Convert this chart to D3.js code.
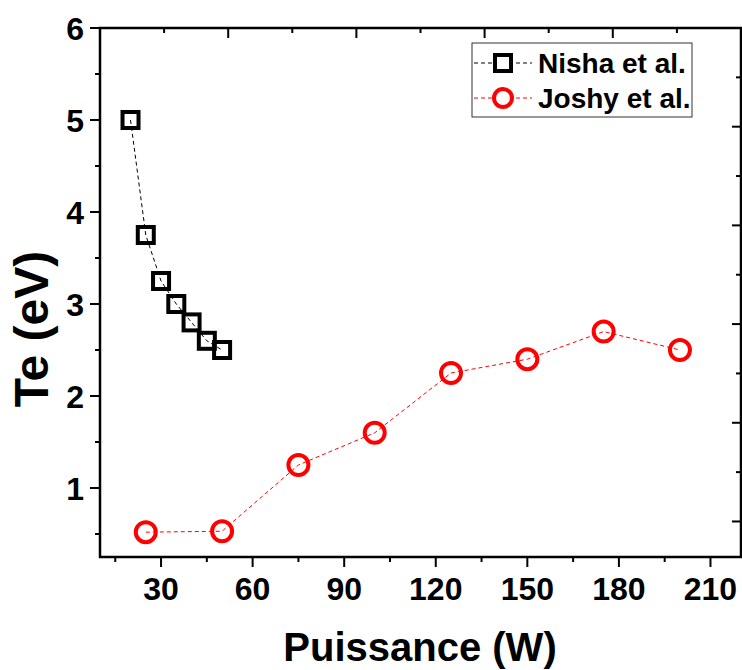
<!doctype html>
<html lang="fr">
<head>
  <meta charset="UTF-8">
  <title>Te vs Puissance</title>
  <style>
    body { margin: 0; background: #fff; }
    #app { width: 742px; height: 670px; }
    text { font-family: "Liberation Sans", Arial, sans-serif; font-weight: bold; }
  </style>
</head>
<body>
<div id="app"></div>
<script src="https://cdn.jsdelivr.net/npm/d3@7"></script>
<script>
  // data
  var nishaX = [20, 25, 30, 35, 40, 45, 50];
  var nishaY = [5.0, 3.75, 3.25, 3.0, 2.8, 2.6, 2.5];
  var joshyX = [25, 50, 75, 100, 125, 150, 175, 200];
  var joshyY = [0.52, 0.53, 1.25, 1.6, 2.25, 2.4, 2.7, 2.5];
  var xTicks = [30, 60, 90, 120, 150, 180, 210];
  var yTicks = [1, 2, 3, 4, 5, 6];
  var seriesNames = ['Nisha et al.', 'Joshy et al.'];

  var width = 742, height = 670;
  // plot frame (note: "top" is reserved on window, so use pTop etc.)
  var pLeft = 100, pRight = 741, pTop = 28, pBottom = 557;

  var x = d3.scaleLinear().domain([10, 220]).range([pLeft, pRight]);
  var y = d3.scaleLinear().domain([0.25, 6]).range([pBottom, pTop]);

  var svg = d3.select('#app').append('svg')
    .attr('width', width)
    .attr('height', height);

  // frame
  svg.append('rect')
    .attr('x', pLeft).attr('y', pTop)
    .attr('width', pRight - pLeft).attr('height', pBottom - pTop)
    .attr('fill', 'none').attr('stroke', '#000').attr('stroke-width', 2.5);

  // bottom axis: major + minor ticks outward
  var xMinor = d3.range(15, 220, 30);
  svg.selectAll('line.xmaj').data(xTicks).enter().append('line')
    .attr('x1', d => x(d)).attr('x2', d => x(d))
    .attr('y1', pBottom).attr('y2', pBottom + 10)
    .attr('stroke', '#000').attr('stroke-width', 2);
  svg.selectAll('line.xmin').data(xMinor).enter().append('line')
    .attr('x1', d => x(d)).attr('x2', d => x(d))
    .attr('y1', pBottom).attr('y2', pBottom + 5)
    .attr('stroke', '#000').attr('stroke-width', 2);
  svg.selectAll('text.xlab').data(xTicks).enter().append('text')
    .attr('x', d => x(d)).attr('y', 600)
    .attr('text-anchor', 'middle')
    .attr('font-size', 32)
    .text(d => d);

  // left axis
  var yMinor = d3.range(0.5, 6, 1);
  svg.selectAll('line.ymaj').data(yTicks).enter().append('line')
    .attr('x1', pLeft - 10).attr('x2', pLeft)
    .attr('y1', d => y(d)).attr('y2', d => y(d))
    .attr('stroke', '#000').attr('stroke-width', 2);
  svg.selectAll('line.ymin').data(yMinor).enter().append('line')
    .attr('x1', pLeft - 5).attr('x2', pLeft)
    .attr('y1', d => y(d)).attr('y2', d => y(d))
    .attr('stroke', '#000').attr('stroke-width', 2);
  svg.selectAll('text.ylab').data(yTicks).enter().append('text')
    .attr('x', 84).attr('y', d => y(d) + 12)
    .attr('text-anchor', 'end')
    .attr('font-size', 32)
    .text(d => d);

  // top axis (own tick spacing, inward)
  var topScale = d3.scaleLinear().domain([0, 10]).range([pLeft, pRight]);
  svg.selectAll('line.topt').data(d3.range(1, 10)).enter().append('line')
    .attr('x1', d => topScale(d)).attr('x2', d => topScale(d))
    .attr('y1', pTop).attr('y2', d => pTop + (d % 2 ? 5 : 10))
    .attr('stroke', '#000').attr('stroke-width', 2);

  // right axis (own tick spacing, inward)
  var rightScale = d3.scaleLinear().domain([0, 10.72]).range([pTop, pBottom]);
  svg.selectAll('line.rightt').data(d3.range(1, 11)).enter().append('line')
    .attr('x1', pRight).attr('x2', d => pRight - (d % 2 ? 5 : 9))
    .attr('y1', d => rightScale(d)).attr('y2', d => rightScale(d))
    .attr('stroke', '#000').attr('stroke-width', 2);

  // axis titles
  svg.append('text')
    .attr('x', 420).attr('y', 661)
    .attr('text-anchor', 'middle')
    .attr('font-size', 40)
    .text('Puissance (W)');
  svg.append('text')
    .attr('transform', 'translate(48,329) rotate(-90)')
    .attr('text-anchor', 'middle')
    .attr('font-size', 48)
    .text('Te (eV)');

  // series
  var nisha = nishaX.map((d, i) => [d, nishaY[i]]);
  var joshy = joshyX.map((d, i) => [d, joshyY[i]]);
  var line = d3.line().x(d => x(d[0])).y(d => y(d[1]));

  svg.append('path').datum(nisha).attr('d', line)
    .attr('fill', 'none').attr('stroke', '#000')
    .attr('stroke-width', 1).attr('stroke-dasharray', '4,3');
  svg.append('path').datum(joshy).attr('d', line)
    .attr('fill', 'none').attr('stroke', '#f00')
    .attr('stroke-width', 1).attr('stroke-dasharray', '4,3');

  var s = 16;
  svg.selectAll('rect.sq').data(nisha).enter().append('rect')
    .attr('x', d => x(d[0]) - s / 2).attr('y', d => y(d[1]) - s / 2)
    .attr('width', s).attr('height', s)
    .attr('fill', 'none').attr('stroke', '#000').attr('stroke-width', 4);
  svg.selectAll('circle.ci').data(joshy).enter().append('circle')
    .attr('cx', d => x(d[0])).attr('cy', d => y(d[1]))
    .attr('r', 10)
    .attr('fill', 'none').attr('stroke', '#f00').attr('stroke-width', 4);

  // legend
  var lg = svg.append('g');
  lg.append('rect')
    .attr('x', 472).attr('y', 43).attr('width', 220).attr('height', 74)
    .attr('fill', '#fff').attr('stroke', '#333').attr('stroke-width', 1);
  var rows = [63, 98];
  seriesNames.forEach(function(name, i) {
    var c = i === 0 ? '#000' : '#f00';
    lg.append('line')
      .attr('x1', 474).attr('x2', 532).attr('y1', rows[i]).attr('y2', rows[i])
      .attr('stroke', c).attr('stroke-width', 1).attr('stroke-dasharray', '4,3');
    if (i === 0) {
      lg.append('rect')
        .attr('x', 503 - s / 2).attr('y', rows[i] - s / 2)
        .attr('width', s).attr('height', s)
        .attr('fill', '#fff').attr('stroke', c).attr('stroke-width', 4);
    } else {
      lg.append('circle')
        .attr('cx', 503).attr('cy', rows[i]).attr('r', 9)
        .attr('fill', '#fff').attr('stroke', c).attr('stroke-width', 4);
    }
    lg.append('text')
      .attr('x', 538).attr('y', rows[i] + 10)
      .attr('font-size', 28)
      .text(name);
  });
</script>
</body>
</html>
